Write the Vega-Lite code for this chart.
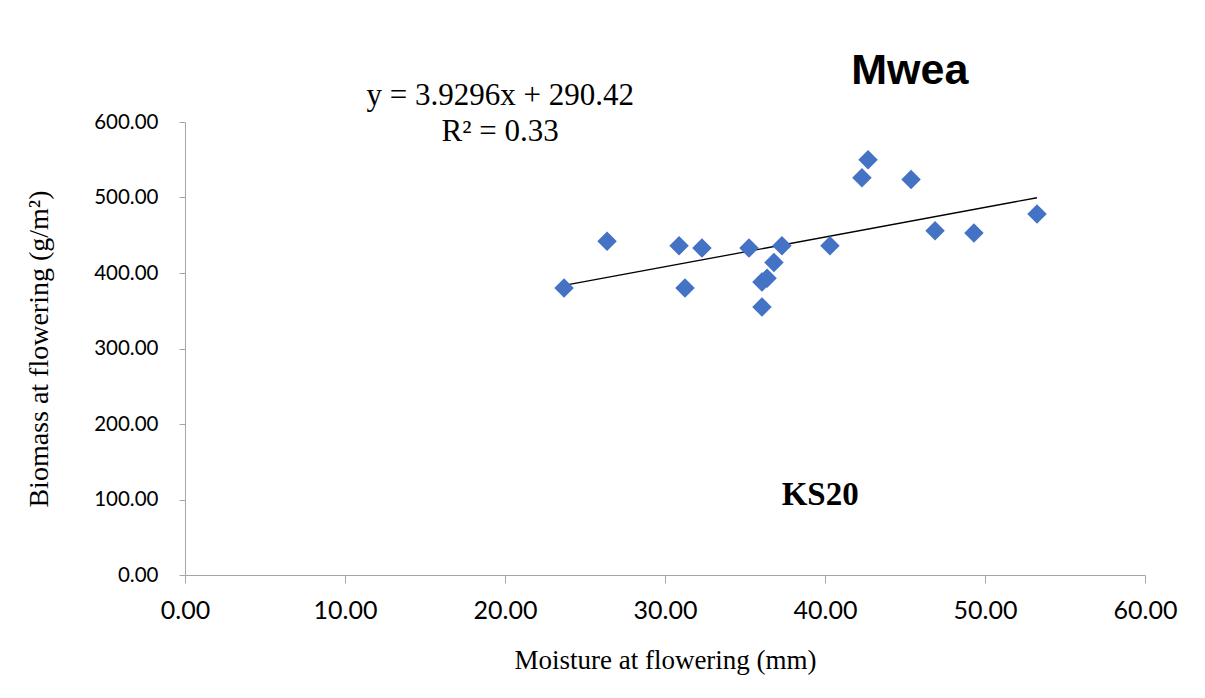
{
  "$schema": "https://vega.github.io/schema/vega-lite/v6.json",
  "width": 960,
  "height": 453,
  "autosize": {"type": "none"},
  "padding": {"left": 185, "top": 122, "right": 60, "bottom": 123},
  "background": "white",
  "config": {"view": {"stroke": null}},
  "datasets": {
    "pts": [
      {"moisture": 23.69, "biomass": 380},
      {"moisture": 26.38, "biomass": 442},
      {"moisture": 30.88, "biomass": 436},
      {"moisture": 31.25, "biomass": 380},
      {"moisture": 32.31, "biomass": 433},
      {"moisture": 35.25, "biomass": 433},
      {"moisture": 36.06, "biomass": 388},
      {"moisture": 36.38, "biomass": 393},
      {"moisture": 36.06, "biomass": 355},
      {"moisture": 36.81, "biomass": 414},
      {"moisture": 37.31, "biomass": 436},
      {"moisture": 40.31, "biomass": 436},
      {"moisture": 42.31, "biomass": 526},
      {"moisture": 42.69, "biomass": 550},
      {"moisture": 45.38, "biomass": 524},
      {"moisture": 46.88, "biomass": 456},
      {"moisture": 49.31, "biomass": 453},
      {"moisture": 53.25, "biomass": 478}
    ],
    "trend": [
      {"moisture": 23.69, "biomass": 383.51},
      {"moisture": 53.25, "biomass": 499.67}
    ],
    "labels": [
      {"moisture": 19.7, "biomass": 634, "text": "y = 3.9296x + 290.42", "kind": "eq"},
      {"moisture": 19.7, "biomass": 587, "text": "R² = 0.33", "kind": "eq"},
      {"moisture": 39.7, "biomass": 106, "text": "KS20", "kind": "ks"},
      {"moisture": 45.3, "biomass": 667, "text": "Mwea", "kind": "title"}
    ]
  },
  "layer": [
    {
      "data": {"name": "trend"},
      "mark": {"type": "line", "color": "black", "strokeWidth": 1.3},
      "encoding": {
        "x": {
          "field": "moisture", "type": "quantitative",
          "scale": {"domain": [0, 60], "nice": false},
          "axis": {
            "title": "Moisture at flowering (mm)",
            "titleFont": "Liberation Serif", "titleFontSize": 27, "titleFontWeight": "normal", "titleColor": "#000",
            "titlePadding": 24,
            "values": [0, 10, 20, 30, 40, 50, 60],
            "format": ".2f",
            "labelFont": "Lato", "labelFontSize": 25, "labelColor": "#000",
            "labelPadding": 15,
            "tickSize": 8, "tickColor": "#a6a6a6", "domainColor": "#a6a6a6",
            "grid": false, "labelFlush": false, "labelOverlap": false
          }
        },
        "y": {
          "field": "biomass", "type": "quantitative",
          "scale": {"domain": [0, 600], "nice": false},
          "axis": {
            "title": "Biomass at flowering (g/m²)",
            "titleFont": "Liberation Serif", "titleFontSize": 28, "titleFontWeight": "normal", "titleColor": "#000",
            "titlePadding": 40,
            "values": [0, 100, 200, 300, 400, 500, 600],
            "format": ".2f",
            "labelFont": "Lato", "labelFontSize": 20.5, "labelColor": "#000",
            "labelPadding": 21,
            "tickSize": 6, "tickColor": "#a6a6a6", "domainColor": "#a6a6a6",
            "grid": false, "labelFlush": false, "labelOverlap": false
          }
        }
      }
    },
    {
      "data": {"name": "pts"},
      "mark": {"type": "point", "shape": "diamond", "filled": true, "size": 380, "color": "#4472C4", "opacity": 1},
      "encoding": {
        "x": {"field": "moisture", "type": "quantitative"},
        "y": {"field": "biomass", "type": "quantitative"}
      }
    },
    {
      "data": {"name": "labels"},
      "transform": [{"filter": "datum.kind == 'eq'"}],
      "mark": {"type": "text", "font": "Liberation Serif", "fontSize": 31, "color": "#000", "align": "center", "baseline": "middle"},
      "encoding": {
        "x": {"field": "moisture", "type": "quantitative"},
        "y": {"field": "biomass", "type": "quantitative"},
        "text": {"field": "text"}
      }
    },
    {
      "data": {"name": "labels"},
      "transform": [{"filter": "datum.kind == 'ks'"}],
      "mark": {"type": "text", "font": "Liberation Serif", "fontSize": 33, "fontWeight": "bold", "color": "#000", "align": "center", "baseline": "middle"},
      "encoding": {
        "x": {"field": "moisture", "type": "quantitative"},
        "y": {"field": "biomass", "type": "quantitative"},
        "text": {"field": "text"}
      }
    },
    {
      "data": {"name": "labels"},
      "transform": [{"filter": "datum.kind == 'title'"}],
      "mark": {"type": "text", "font": "Liberation Sans", "fontSize": 43, "fontWeight": "bold", "color": "#000", "align": "center", "baseline": "middle"},
      "encoding": {
        "x": {"field": "moisture", "type": "quantitative"},
        "y": {"field": "biomass", "type": "quantitative"},
        "text": {"field": "text"}
      }
    }
  ]
}
